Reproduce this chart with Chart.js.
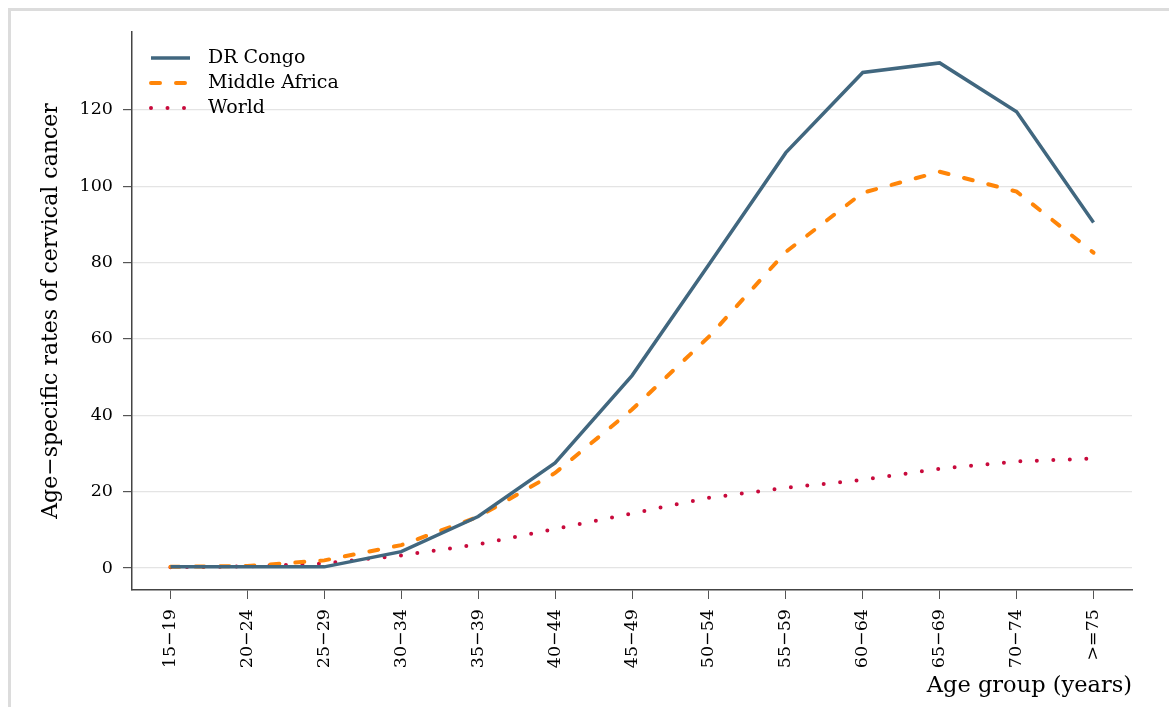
<!DOCTYPE html>
<html>
<head>
<meta charset="utf-8">
<script src="https://cdn.jsdelivr.net/npm/chart.js@4"></script>
<style>
  html, body { margin: 0; padding: 0; background: #fff; }
  #wrap { width: 1169px; height: 707px; }
</style>
</head>
<body>
<div id="wrap"><canvas id="chart" width="1169" height="707"></canvas></div>
<script>
const ageGroups = ["15−19", "20−24", "25−29", "30−34", "35−39", "40−44", "45−49",
  "50−54", "55−59", "60−64", "65−69", "70−74", ">=75"];
const drCongo = [0.3, 0.3, 0.3, 4.3, 13.5, 27.5, 50.4, 79.5, 108.8, 129.8, 132.3, 119.5, 90.5];
const middleAfrica = [0.3, 0.5, 2.0, 6.0, 13.4, 24.9, 41.5, 60.6, 82.8, 98.3, 103.8, 98.6, 82.6];
const world = [0.2, 0.4, 1.2, 3.3, 6.2, 10.2, 14.3, 18.4, 21.0, 23.1, 26.0, 27.9, 28.7];
const yTicks = [0, 20, 40, 60, 80, 100, 120];

const FONT = "'DejaVu Serif', serif";

// light grey frame of the graph region (top / left visible)
const framePlugin = {
  id: "frame",
  beforeDraw(chart) {
    const ctx = chart.ctx;
    ctx.save();
    ctx.fillStyle = "#dcdcdc";
    ctx.fillRect(8, 8, 1169, 3);
    ctx.fillRect(8, 8, 3, 707);
    ctx.restore();
  }
};

// legend drawn as line samples, top-left inside the plot
const legendPlugin = {
  id: "lineLegend",
  afterDraw(chart) {
    const ctx = chart.ctx;
    const rows = [58, 83, 108];
    ctx.save();
    chart.data.datasets.forEach((ds, i) => {
      const y = rows[i];
      ctx.beginPath();
      ctx.strokeStyle = ds.borderColor;
      ctx.lineWidth = ds.borderWidth;
      ctx.lineCap = ds.borderCapStyle || "butt";
      ctx.setLineDash(ds.borderDash || []);
      ctx.moveTo(151, y);
      ctx.lineTo(190, y);
      ctx.stroke();
      ctx.setLineDash([]);
      ctx.fillStyle = "#000";
      ctx.font = "19px " + FONT;
      ctx.textBaseline = "middle";
      ctx.fillText(ds.label, 208, y);
    });
    ctx.restore();
  }
};

new Chart(document.getElementById("chart"), {
  type: "line",
  data: {
    labels: ageGroups,
    datasets: [
      {
        label: "DR Congo",
        data: drCongo,
        borderColor: "#41677f",
        borderWidth: 3.5,
        borderCapStyle: "butt",
        pointRadius: 0,
        tension: 0
      },
      {
        label: "Middle Africa",
        data: middleAfrica,
        borderColor: "#ff8508",
        borderWidth: 4,
        borderDash: [9, 16],
        borderCapStyle: "round",
        pointRadius: 0,
        tension: 0
      },
      {
        label: "World",
        data: world,
        borderColor: "#c80a3c",
        borderWidth: 4,
        borderDash: [0, 16.5],
        borderCapStyle: "round",
        pointRadius: 0,
        tension: 0
      }
    ]
  },
  options: {
    responsive: false,
    animation: false,
    layout: { padding: { top: 32, right: 37, left: 0, bottom: 0 } },
    plugins: {
      legend: { display: false },
      tooltip: { enabled: false }
    },
    scales: {
      x: {
        offset: true,
        grid: { drawOnChartArea: false, tickColor: "#555", tickLength: 9, offset: false },
        border: { color: "#444", width: 1.5 },
        ticks: {
          minRotation: 90, maxRotation: 90, autoSkip: false,
          padding: 10, color: "#000",
          font: { family: FONT, size: 17.5 }
        },
        title: {
          display: true, text: "Age group (years)", align: "end",
          color: "#000", font: { family: FONT, size: 22.5 },
          padding: { top: 0, bottom: 7 }
        },
        afterFit(scale) { scale.height = 117; }
      },
      y: {
        min: -5.76,
        max: 140.4,
        afterBuildTicks(scale) { scale.ticks = yTicks.map(v => ({ value: v })); },
        grid: { color: "#e4e4e4", lineWidth: 1.2, tickColor: "#555", tickLength: 9 },
        border: { color: "#444", width: 1.5 },
        ticks: { padding: 10, color: "#000", font: { family: FONT, size: 17.5 } },
        title: {
          display: true, text: "Age−specific rates of cervical cancer",
          color: "#000", font: { family: FONT, size: 22 },
          padding: { top: 38, bottom: 0 }
        },
        afterFit(scale) { scale.width = 132; }
      }
    }
  },
  plugins: [framePlugin, legendPlugin]
});
</script>
</body>
</html>
